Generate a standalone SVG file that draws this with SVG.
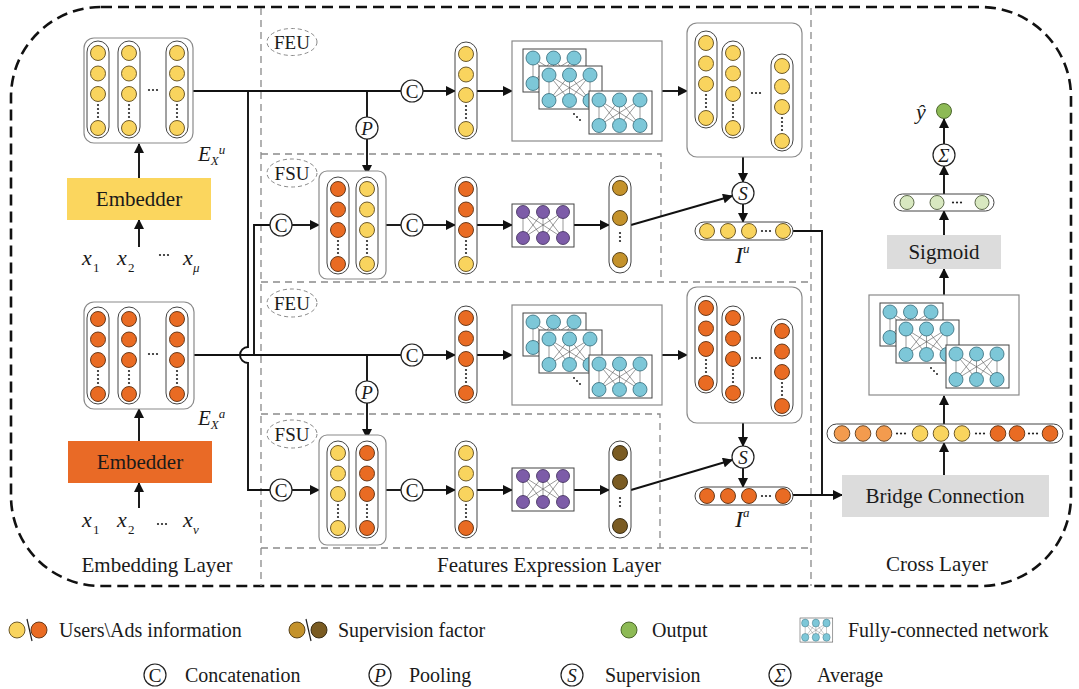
<svg xmlns="http://www.w3.org/2000/svg" width="1079" height="689" viewBox="0 0 1079 689">
<style>
text{font-family:"Liberation Serif","Times New Roman",serif;fill:#1a1a1a}
.pill{fill:#fff;stroke:#444;stroke-width:1}
.grp{fill:#fff;stroke:#8a8a8a;stroke-width:1.2}
.y{fill:#F9D45E;stroke:#5c4a1c;stroke-width:0.9}
.o{fill:#E96B23;stroke:#5a2e10;stroke-width:0.9}
.lo{fill:#F39B4E;stroke:#5a3a1c;stroke-width:0.9}
.b1{fill:#C4922B;stroke:#4a3610;stroke-width:0.9}
.b2{fill:#7A5B22;stroke:#2e220c;stroke-width:0.9}
.cy{fill:#7DC7D8;stroke:#336a78;stroke-width:0.8}
.pu{fill:#7D5CA8;stroke:#3a2855;stroke-width:0.8}
.gr{fill:#8DBA55;stroke:#3f5a20;stroke-width:0.9}
.lg{fill:#D8E8C0;stroke:#4d5a3a;stroke-width:0.9}
.dot{fill:#222}
.edge{stroke:#555;stroke-width:0.6}
.sub{fill:#fff;stroke:#444;stroke-width:1}
.fcbox{fill:#fff;stroke:#8a8a8a;stroke-width:1.2}
.op{fill:#fff;stroke:#222;stroke-width:1.2}
.conn{fill:none;stroke:#111;stroke-width:1.9}
.arr{marker-end:url(#ah)}
.gd{fill:none;stroke:#8a8a8a;stroke-width:1.3;stroke-dasharray:7 5}
.el{fill:none;stroke:#8a8a8a;stroke-width:1;stroke-dasharray:4 3}
.big{font-size:21px}
.leg{font-size:20px}
.it{font-style:italic}
</style>
<defs>
<marker id="ah" viewBox="0 0 10 10" refX="9" refY="5" markerWidth="11" markerHeight="10" markerUnits="userSpaceOnUse" orient="auto"><path d="M0,0 L10,5 L0,10 z" fill="#111"/></marker>
<g id="vdots"><circle class="dot" cx="0" cy="52" r="1.1"/><circle class="dot" cx="0" cy="56" r="1.1"/><circle class="dot" cx="0" cy="60" r="1.1"/><circle class="dot" cx="0" cy="64" r="1.1"/></g>
<g id="hd"><circle class="dot" cx="-4" cy="0" r="1.1"/><circle class="dot" cx="0" cy="0" r="1.1"/><circle class="dot" cx="4" cy="0" r="1.1"/></g>
<rect id="vp" class="pill" x="-11" y="-12" width="22" height="97" rx="11"/>
<g id="colY"><use href="#vp"/><circle class="y" cx="0" cy="0" r="7.5"/><circle class="y" cx="0" cy="20.5" r="7.5"/><circle class="y" cx="0" cy="41" r="7.5"/><use href="#vdots"/><circle class="y" cx="0" cy="75" r="7.5"/></g>
<g id="colO"><use href="#vp"/><circle class="o" cx="0" cy="0" r="7.5"/><circle class="o" cx="0" cy="20.5" r="7.5"/><circle class="o" cx="0" cy="41" r="7.5"/><use href="#vdots"/><circle class="o" cx="0" cy="75" r="7.5"/></g>
<g id="colOY"><use href="#vp"/><circle class="o" cx="0" cy="0" r="7.5"/><circle class="o" cx="0" cy="20.5" r="7.5"/><circle class="o" cx="0" cy="41" r="7.5"/><use href="#vdots"/><circle class="y" cx="0" cy="75" r="7.5"/></g>
<g id="colYO"><use href="#vp"/><circle class="y" cx="0" cy="0" r="7.5"/><circle class="y" cx="0" cy="20.5" r="7.5"/><circle class="y" cx="0" cy="41" r="7.5"/><use href="#vdots"/><circle class="o" cx="0" cy="75" r="7.5"/></g>
<g id="colB1"><use href="#vp"/><circle class="b1" cx="0" cy="0" r="7.5"/><circle class="b1" cx="0" cy="30" r="7.5"/><circle class="dot" cx="0" cy="45" r="1.1"/><circle class="dot" cx="0" cy="49" r="1.1"/><circle class="dot" cx="0" cy="53" r="1.1"/><circle class="b1" cx="0" cy="72" r="7.5"/></g>
<g id="colB2"><use href="#vp"/><circle class="b2" cx="0" cy="0" r="7.5"/><circle class="b2" cx="0" cy="29" r="7.5"/><circle class="dot" cx="0" cy="45" r="1.1"/><circle class="dot" cx="0" cy="49" r="1.1"/><circle class="dot" cx="0" cy="53" r="1.1"/><circle class="b2" cx="0" cy="73" r="7.5"/></g>
<g id="net">
<rect class="sub" x="0" y="0" width="63" height="43"/>
<path class="edge" d="M10,9L10,34.5M10,9L30.5,34.5M10,9L51,34.5M30.5,9L10,34.5M30.5,9L30.5,34.5M30.5,9L51,34.5M51,9L10,34.5M51,9L30.5,34.5M51,9L51,34.5"/>
<circle class="cy" cx="10" cy="9" r="7"/><circle class="cy" cx="30.5" cy="9" r="7"/><circle class="cy" cx="51" cy="9" r="7"/>
<circle class="cy" cx="10" cy="34.5" r="7"/><circle class="cy" cx="30.5" cy="34.5" r="7"/><circle class="cy" cx="51" cy="34.5" r="7"/>
</g>
<g id="pnet">
<rect class="sub" x="0" y="0" width="62" height="43"/>
<path class="edge" d="M11,8L11,34M11,8L31,34M11,8L51,34M31,8L11,34M31,8L31,34M31,8L51,34M51,8L11,34M51,8L31,34M51,8L51,34"/>
<circle class="pu" cx="11" cy="8" r="6.5"/><circle class="pu" cx="31" cy="8" r="6.5"/><circle class="pu" cx="51" cy="8" r="6.5"/>
<circle class="pu" cx="11" cy="34" r="6.5"/><circle class="pu" cx="31" cy="34" r="6.5"/><circle class="pu" cx="51" cy="34" r="6.5"/>
</g>
<g id="fcstack">
<rect class="fcbox" x="512" y="41" width="150" height="100"/>
<use href="#net" x="523" y="49"/>
<use href="#net" x="539" y="66"/>
<use href="#net" x="589" y="91"/>
<circle class="dot" cx="574" cy="114" r="1"/><circle class="dot" cx="577" cy="117" r="1"/><circle class="dot" cx="580" cy="120" r="1"/>
</g>
</defs>

<rect width="1079" height="689" fill="#fff"/>

<!-- region boundaries -->
<g id="regions">
<rect x="11" y="7" width="1060" height="579" rx="90" fill="none" stroke="#111" stroke-width="2.6" stroke-dasharray="11 6"/>
<path class="gd" d="M261,8V586M811,8V586M261,282H811M261,548H811M261,154H661V282M261,414H660V548"/>
<text class="big" x="157" y="572" text-anchor="middle">Embedding Layer</text>
<text class="big" x="549" y="572" text-anchor="middle">Features Expression Layer</text>
<text class="big" x="937" y="571" text-anchor="middle">Cross Layer</text>
</g>

<!-- unit labels -->
<g id="feu-u"><ellipse class="el" cx="292" cy="42" rx="25" ry="13.5"/><text x="292" y="49" font-size="19" text-anchor="middle">FEU</text></g>
<g id="fsu-u"><ellipse class="el" cx="292" cy="173" rx="25" ry="14"/><text x="292" y="180" font-size="19" text-anchor="middle">FSU</text></g>
<g id="feu-a"><ellipse class="el" cx="292" cy="303" rx="25" ry="14"/><text x="292" y="310" font-size="19" text-anchor="middle">FEU</text></g>
<g id="fsu-a"><ellipse class="el" cx="292" cy="434" rx="25" ry="14"/><text x="292" y="441" font-size="19" text-anchor="middle">FSU</text></g>

<!-- connectors -->
<g id="connectors">
<path class="conn arr" d="M139,178V144"/>
<path class="conn arr" d="M139,247V220"/>
<path class="conn arr" d="M139,441V409"/>
<path class="conn arr" d="M139,508V483"/>
<path class="conn" d="M193,91H401"/>
<path class="conn" d="M194,355H401"/>
<path class="conn" d="M248,91V347A8,8 0 0 0 248,363V490H270"/>
<path class="conn" d="M254,355V225H270"/>
<path class="conn" d="M367,91V117"/>
<path class="conn arr" d="M367,139V174"/>
<path class="conn" d="M367,355V381"/>
<path class="conn arr" d="M367,403V438"/>
<path class="conn arr" d="M423,91H455"/>
<path class="conn arr" d="M477,91H512"/>
<path class="conn arr" d="M662,91H687"/>
<path class="conn arr" d="M743,157V182"/>
<path class="conn arr" d="M743,204V222"/>
<path class="conn arr" d="M292,225H319"/>
<path class="conn" d="M386,225H401"/>
<path class="conn arr" d="M423,225H455"/>
<path class="conn arr" d="M477,225H512"/>
<path class="conn arr" d="M574,225H609"/>
<path class="conn arr" d="M631,225L732,196"/>
<path class="conn arr" d="M423,355H455"/>
<path class="conn arr" d="M477,355H512"/>
<path class="conn arr" d="M662,355H687"/>
<path class="conn arr" d="M743,423V446"/>
<path class="conn arr" d="M743,468V487"/>
<path class="conn arr" d="M292,490H319"/>
<path class="conn" d="M386,490H401"/>
<path class="conn arr" d="M423,490H455"/>
<path class="conn arr" d="M477,490H512"/>
<path class="conn arr" d="M574,490H609"/>
<path class="conn arr" d="M631,490L732,460"/>
<path class="conn" d="M793,231H822V495"/>
<path class="conn arr" d="M793,495H842"/>
<path class="conn arr" d="M944,475V443"/>
<path class="conn arr" d="M944,424V396"/>
<path class="conn arr" d="M944,295V269"/>
<path class="conn arr" d="M944,235V211"/>
<path class="conn arr" d="M944,194V166"/>
<path class="conn arr" d="M944,144V119"/>
</g>

<!-- Embedding layer -->
<g id="emb-matrix-u">
<rect class="grp" x="84" y="38" width="109" height="105" rx="10"/>
<use href="#colY" x="98" y="53"/><use href="#colY" x="129" y="53"/><use href="#colY" x="177" y="53"/>
<use href="#hd" x="153" y="90"/>
<text x="198" y="161" font-size="21" class="it">E<tspan font-size="13" dy="4">X</tspan><tspan font-size="13" dy="-11">u</tspan></text>
</g>
<g id="embedder-u"><rect x="67" y="178" width="144" height="42" fill="#FBD65E"/><text class="big" x="139" y="206" text-anchor="middle">Embedder</text></g>
<g id="inputs-u">
<text x="82" y="265" font-size="22" class="it">x</text><text x="93" y="272" font-size="13">1</text>
<text x="117" y="265" font-size="22" class="it">x</text><text x="128" y="272" font-size="13">2</text>
<use href="#hd" x="164" y="255"/>
<text x="183" y="265" font-size="22" class="it">x</text><text x="193" y="272" font-size="13" class="it">μ</text>
</g>
<g id="emb-matrix-a">
<rect class="grp" x="84" y="302" width="110" height="107" rx="10"/>
<use href="#colO" x="98" y="319"/><use href="#colO" x="129" y="319"/><use href="#colO" x="177" y="319"/>
<use href="#hd" x="153" y="354"/>
<text x="198" y="425" font-size="21" class="it">E<tspan font-size="13" dy="4">X</tspan><tspan font-size="13" dy="-11">a</tspan></text>
</g>
<g id="embedder-a"><rect x="68" y="441" width="144" height="42" fill="#E96A26"/><text class="big" x="140" y="469" text-anchor="middle">Embedder</text></g>
<g id="inputs-a">
<text x="82" y="527" font-size="22" class="it">x</text><text x="93" y="534" font-size="13">1</text>
<text x="117" y="527" font-size="22" class="it">x</text><text x="128" y="534" font-size="13">2</text>
<use href="#hd" x="162" y="524"/>
<text x="183" y="527" font-size="22" class="it">x</text><text x="193" y="534" font-size="13" class="it">ν</text>
</g>

<!-- operator circles -->
<g id="c1"><circle class="op" cx="412" cy="91" r="11"/><text x="412" y="98" font-size="19" text-anchor="middle">C</text></g>
<g id="p1"><circle class="op" cx="367" cy="128" r="11"/><text x="367" y="135" font-size="19" text-anchor="middle" class="it">P</text></g>
<g id="c2"><circle class="op" cx="281" cy="225" r="11"/><text x="281" y="232" font-size="19" text-anchor="middle">C</text></g>
<g id="c3"><circle class="op" cx="412" cy="225" r="11"/><text x="412" y="232" font-size="19" text-anchor="middle">C</text></g>
<g id="c4"><circle class="op" cx="412" cy="355" r="11"/><text x="412" y="362" font-size="19" text-anchor="middle">C</text></g>
<g id="p2"><circle class="op" cx="367" cy="392" r="11"/><text x="367" y="399" font-size="19" text-anchor="middle" class="it">P</text></g>
<g id="c5"><circle class="op" cx="281" cy="490" r="11"/><text x="281" y="497" font-size="19" text-anchor="middle">C</text></g>
<g id="c6"><circle class="op" cx="412" cy="490" r="11"/><text x="412" y="497" font-size="19" text-anchor="middle">C</text></g>
<g id="s1"><circle class="op" cx="743" cy="193" r="11"/><text x="743" y="200" font-size="19" text-anchor="middle" class="it">S</text></g>
<g id="s2"><circle class="op" cx="743" cy="457" r="11"/><text x="743" y="464" font-size="19" text-anchor="middle" class="it">S</text></g>

<!-- FEU upper -->
<g id="feu-u-concat"><use href="#colY" x="466" y="54"/></g>
<g id="feu-u-fc"><use href="#fcstack"/></g>
<g id="feu-u-out">
<rect class="grp" x="687" y="23" width="115" height="134" rx="10"/>
<use href="#colY" x="706" y="43"/><use href="#colY" x="733" y="53"/><use href="#colY" x="782" y="66"/>
<use href="#hd" x="756" y="93"/>
</g>
<!-- FSU upper -->
<g id="fsu-u-in">
<rect class="grp" x="319" y="171" width="67" height="108" rx="8"/>
<use href="#colO" x="338" y="189"/><use href="#colY" x="367" y="189"/>
</g>
<g id="fsu-u-concat"><use href="#colOY" x="466" y="189"/></g>
<g id="fsu-u-fc"><use href="#pnet" x="512" y="204"/></g>
<g id="fsu-u-factor"><use href="#colB1" x="620" y="188"/></g>
<g id="iu">
<rect class="pill" x="695" y="222" width="98" height="18" rx="9"/>
<circle class="y" cx="707" cy="231" r="7.5"/><circle class="y" cx="728" cy="231" r="7.5"/><circle class="y" cx="749" cy="231" r="7.5"/>
<use href="#hd" x="766" y="231"/><circle class="y" cx="783" cy="231" r="7.5"/>
<text x="735" y="263" font-size="24" class="it">I<tspan font-size="13" dy="-10">u</tspan></text>
</g>

<!-- FEU lower -->
<g id="feu-a-concat"><use href="#colO" x="466" y="318"/></g>
<g id="feu-a-fc"><use href="#fcstack" y="264"/></g>
<g id="feu-a-out">
<rect class="grp" x="687" y="287" width="115" height="136" rx="10"/>
<use href="#colO" x="706" y="308"/><use href="#colO" x="733" y="318"/><use href="#colO" x="782" y="331"/>
<use href="#hd" x="756" y="358"/>
</g>
<!-- FSU lower -->
<g id="fsu-a-in">
<rect class="grp" x="319" y="435" width="67" height="110" rx="8"/>
<use href="#colY" x="338" y="453"/><use href="#colO" x="367" y="453"/>
</g>
<g id="fsu-a-concat"><use href="#colYO" x="466" y="453"/></g>
<g id="fsu-a-fc"><use href="#pnet" x="512" y="468"/></g>
<g id="fsu-a-factor"><use href="#colB2" x="620" y="453"/></g>
<g id="ia">
<rect class="pill" x="695" y="487" width="98" height="18" rx="9"/>
<circle class="o" cx="707" cy="496" r="7.5"/><circle class="o" cx="728" cy="496" r="7.5"/><circle class="o" cx="749" cy="496" r="7.5"/>
<use href="#hd" x="766" y="496"/><circle class="o" cx="783" cy="496" r="7.5"/>
<text x="735" y="527" font-size="24" class="it">I<tspan font-size="13" dy="-10">a</tspan></text>
</g>

<!-- Cross layer -->
<g id="bridge"><rect x="842" y="475" width="207" height="42" fill="#DCDCDC"/><text class="big" x="945" y="503" text-anchor="middle">Bridge Connection</text></g>
<g id="bridge-out">
<rect class="pill" x="827" y="424" width="236" height="19" rx="9.5"/>
<circle class="lo" cx="842" cy="433.5" r="7.8"/><circle class="lo" cx="863" cy="433.5" r="7.8"/><circle class="lo" cx="884" cy="433.5" r="7.8"/>
<use href="#hd" x="901" y="433.5"/>
<circle class="y" cx="920" cy="433.5" r="7.8"/><circle class="y" cx="941" cy="433.5" r="7.8"/><circle class="y" cx="962" cy="433.5" r="7.8"/>
<use href="#hd" x="980" y="433.5"/>
<circle class="o" cx="998" cy="433.5" r="7.8"/><circle class="o" cx="1017" cy="433.5" r="7.8"/>
<use href="#hd" x="1033" y="433.5"/>
<circle class="o" cx="1050" cy="433.5" r="7.8"/>
</g>
<g id="cross-fc"><use href="#fcstack" x="357" y="254"/></g>
<g id="sigmoid"><rect x="887" y="235" width="114" height="34" fill="#DCDCDC"/><text class="big" x="944" y="259" text-anchor="middle">Sigmoid</text></g>
<g id="sig-out">
<rect class="pill" x="894" y="194" width="100" height="17" rx="8.5"/>
<circle class="lg" cx="907" cy="202.5" r="7"/><circle class="lg" cx="937" cy="202.5" r="7"/>
<use href="#hd" x="957" y="202.5"/><circle class="lg" cx="982" cy="202.5" r="7"/>
</g>
<g id="avg"><circle class="op" cx="944" cy="155" r="11"/><text x="944" y="162" font-size="19" text-anchor="middle" class="it">Σ</text></g>
<g id="output"><circle class="gr" cx="944" cy="111" r="7.5"/><text x="916" y="119" font-size="22" class="it">ŷ</text></g>

<!-- legend -->
<g id="legend">
<circle class="y" cx="17" cy="630" r="8"/><line x1="27" y1="619" x2="32" y2="641" stroke="#222" stroke-width="1.2"/><circle class="o" cx="39" cy="630" r="8"/>
<text class="leg" x="59" y="637">Users\Ads information</text>
<circle class="b1" cx="297" cy="630" r="8"/><line x1="306" y1="619" x2="311" y2="641" stroke="#222" stroke-width="1.2"/><circle class="b2" cx="319" cy="630" r="8"/>
<text class="leg" x="338" y="637">Supervision factor</text>
<circle class="gr" cx="629" cy="630" r="8"/>
<text class="leg" x="652" y="637">Output</text>
<use href="#net" transform="translate(800,618) scale(0.52,0.56)"/>
<text class="leg" x="848" y="637">Fully-connected network</text>
<circle class="op" cx="155" cy="675" r="11"/><text x="155" y="682" font-size="19" text-anchor="middle">C</text>
<text class="leg" x="185" y="682">Concatenation</text>
<circle class="op" cx="380" cy="675" r="11"/><text x="380" y="682" font-size="19" text-anchor="middle" class="it">P</text>
<text class="leg" x="409" y="682">Pooling</text>
<circle class="op" cx="572" cy="675" r="11"/><text x="572" y="682" font-size="19" text-anchor="middle" class="it">S</text>
<text class="leg" x="605" y="682">Supervision</text>
<circle class="op" cx="780" cy="675" r="11"/><text x="780" y="682" font-size="19" text-anchor="middle" class="it">Σ</text>
<text class="leg" x="817" y="682">Average</text>
</g>
</svg>
